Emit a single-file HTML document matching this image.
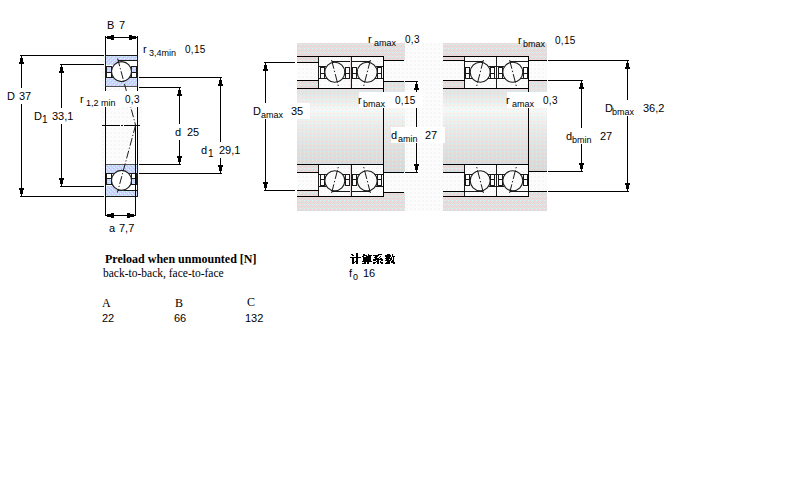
<!DOCTYPE html>
<html><head><meta charset="utf-8"><title>bearing</title>
<style>
html,body{margin:0;padding:0;background:#fff;width:800px;height:500px;overflow:hidden}
svg{position:absolute;left:0;top:0;display:block}
text{fill:#000}
</style></head><body>
<svg width="800" height="500" viewBox="0 0 800 500" shape-rendering="crispEdges">
<defs>
<pattern id="gray" width="4" height="4" patternUnits="userSpaceOnUse">
<rect width="4" height="4" fill="#e1e1e1"/>
<rect x="2" y="1" width="1" height="1" fill="#f6cfcf"/>
<rect x="0" y="3" width="1" height="1" fill="#f6cfcf"/>
<rect x="0" y="0" width="1" height="1" fill="#d0f6f6"/>
<rect x="1" y="2" width="1" height="1" fill="#d5d5d5"/>
<rect x="3" y="2" width="1" height="1" fill="#dadada"/>
</pattern>
<pattern id="blue" width="4" height="4" patternUnits="userSpaceOnUse">
<rect width="4" height="4" fill="#d2d0ff"/>
<rect x="0" y="0" width="1" height="1" fill="#a0d0fa"/>
<rect x="2" y="2" width="1" height="1" fill="#a0d0fa"/>
<rect x="1" y="1" width="1" height="1" fill="#c8fff8"/>
<rect x="3" y="3" width="1" height="1" fill="#c8fff8"/>
<rect x="2" y="0" width="1" height="1" fill="#e0d8e4"/>
<rect x="0" y="2" width="1" height="1" fill="#e0d8e4"/>
</pattern>
<pattern id="hatch" width="4" height="4" patternUnits="userSpaceOnUse">
<rect width="4" height="4" fill="#fcfcfc"/>
<rect x="3" y="0" width="1" height="1" fill="#f1f1f1"/>
<rect x="2" y="1" width="1" height="1" fill="#f1f1f1"/>
</pattern>
<linearGradient id="shaft" x1="0" y1="0" x2="0" y2="1">
<stop offset="0" stop-color="#e0e0e2"/>
<stop offset="0.12" stop-color="#e4e4e7"/>
<stop offset="0.24" stop-color="#eeeff1"/>
<stop offset="0.31" stop-color="#f7f8f9"/>
<stop offset="0.38" stop-color="#f1f2f3"/>
<stop offset="0.52" stop-color="#e9e9eb"/>
<stop offset="0.75" stop-color="#dfdfe1"/>
<stop offset="1" stop-color="#d8d8da"/>
</linearGradient>
<pattern id="dots" width="4" height="4" patternUnits="userSpaceOnUse">
<rect x="2" y="1" width="1" height="1" fill="#ffb8b8" fill-opacity="0.35"/>
<rect x="0" y="3" width="1" height="1" fill="#b8ffff" fill-opacity="0.45"/>
<rect x="0" y="0" width="1" height="1" fill="#ffffb0" fill-opacity="0.3"/>
</pattern>
<g id="brgB"><rect x="1" y="0" width="31" height="33" fill="#fff"/><rect x="1" y="1" width="31" height="4" fill="url(#blue)"/><rect x="1" y="5" width="13" height="5" fill="url(#blue)"/><rect x="1" y="23" width="31" height="8" fill="url(#blue)"/><rect x="13" y="5" width="19" height="1" fill="#1a1a1a"/><rect x="1" y="22" width="31" height="1" fill="#1a1a1a"/><rect x="1" y="11" width="6" height="12" fill="#1a1a1a"/><rect x="2" y="12" width="4" height="5" fill="url(#blue)"/><rect x="2" y="18" width="4" height="4" fill="#fff"/><rect x="26" y="11" width="6" height="12" fill="#1a1a1a"/><rect x="27" y="12" width="4" height="5" fill="url(#blue)"/><rect x="27" y="18" width="4" height="4" fill="#fff"/><circle cx="16.5" cy="16.6" r="10" fill="#fff" stroke="#1a1a1a" stroke-width="1.1" shape-rendering="auto"/><rect x="0" y="0" width="33" height="1" fill="#1a1a1a"/><rect x="0" y="31" width="33" height="1" fill="#555"/></g>
<g id="brgBL"><rect x="1" y="0" width="31" height="33" fill="#fff"/><rect x="1" y="1" width="31" height="5" fill="url(#blue)"/><rect x="1" y="6" width="13" height="5" fill="url(#blue)"/><rect x="1" y="24" width="31" height="8" fill="url(#blue)"/><rect x="13" y="6" width="19" height="1" fill="#1a1a1a"/><rect x="1" y="23" width="31" height="1" fill="#1a1a1a"/><rect x="1" y="12" width="6" height="12" fill="#1a1a1a"/><rect x="2" y="13" width="4" height="5" fill="url(#blue)"/><rect x="2" y="19" width="4" height="4" fill="#fff"/><rect x="26" y="12" width="6" height="12" fill="#1a1a1a"/><rect x="27" y="13" width="4" height="5" fill="url(#blue)"/><rect x="27" y="19" width="4" height="4" fill="#fff"/><circle cx="16.5" cy="16.6" r="10" fill="#fff" stroke="#1a1a1a" stroke-width="1.1" shape-rendering="auto"/><rect x="0" y="0" width="33" height="1" fill="#1a1a1a"/><rect x="0" y="32" width="33" height="1" fill="#555"/></g>
<g id="brgW"><rect x="1" y="0" width="31" height="33" fill="url(#hatch)"/><rect x="14" y="5" width="18" height="1" fill="#1a1a1a"/><rect x="1" y="10" width="7" height="1" fill="#1a1a1a"/><rect x="1" y="22" width="31" height="1" fill="#1a1a1a"/><rect x="2" y="11" width="5" height="12" fill="#1a1a1a"/><rect x="3" y="12" width="3" height="5" fill="#fdfdfd"/><rect x="3" y="18" width="3" height="4" fill="#fdfdfd"/><rect x="27" y="11" width="5" height="12" fill="#1a1a1a"/><rect x="28" y="12" width="3" height="5" fill="#fdfdfd"/><rect x="28" y="18" width="3" height="4" fill="#fdfdfd"/><circle cx="16.8" cy="16.3" r="10" fill="#fbfbfb" stroke="#1a1a1a" stroke-width="1.1" shape-rendering="auto"/><line x1="13.6" y1="4" x2="20.3" y2="30" stroke="#1a1a1a" stroke-width="1" stroke-dasharray="9 2 1.5 2" shape-rendering="auto"/><rect x="0" y="0" width="33" height="1" fill="#1a1a1a"/><rect x="0" y="32" width="33" height="1" fill="#1a1a1a"/></g>
</defs>
<rect x="100" y="55" width="42" height="145" fill="url(#hatch)" />
<rect x="297" y="43" width="250" height="168" fill="url(#hatch)" />
<rect x="297" y="43" width="108" height="168" fill="url(#gray)" />
<rect x="297" y="82" width="108" height="90" fill="url(#shaft)" />
<rect x="297" y="82" width="108" height="90" fill="url(#dots)" />
<rect x="443" y="43" width="104" height="168" fill="url(#gray)" />
<rect x="443" y="82" width="104" height="90" fill="url(#shaft)" />
<rect x="443" y="82" width="104" height="90" fill="url(#dots)" />
<rect x="297" y="63" width="21" height="17" fill="url(#hatch)" />
<rect x="384" y="61" width="21" height="20" fill="url(#hatch)" />
<rect x="297" y="173" width="21" height="17" fill="url(#hatch)" />
<rect x="384" y="173" width="21" height="19" fill="url(#hatch)" />
<rect x="297" y="81" width="21" height="7" fill="url(#gray)" />
<rect x="297" y="165" width="21" height="7" fill="url(#gray)" />
<rect x="443" y="61" width="21" height="19" fill="url(#hatch)" />
<rect x="529" y="61" width="18" height="19" fill="url(#hatch)" />
<rect x="443" y="172" width="21" height="19" fill="url(#hatch)" />
<rect x="529" y="172" width="18" height="19" fill="url(#hatch)" />
<rect x="443" y="81" width="21" height="7" fill="url(#gray)" />
<rect x="443" y="165" width="21" height="6" fill="url(#gray)" />
<use href="#brgB" transform="translate(105,55)"/>
<use href="#brgBL" transform="translate(105,164) translate(0,33) scale(1,-1)"/>
<use href="#brgW" transform="translate(318,56)"/>
<use href="#brgW" transform="translate(351,56) translate(33,0) scale(-1,1)"/>
<use href="#brgW" transform="translate(318,164) translate(0,33) scale(1,-1)"/>
<use href="#brgW" transform="translate(351,164) translate(33,0) scale(-1,1) translate(0,33) scale(1,-1)"/>
<use href="#brgW" transform="translate(464,56) translate(33,0) scale(-1,1)"/>
<use href="#brgW" transform="translate(496,56)"/>
<use href="#brgW" transform="translate(464,164) translate(33,0) scale(-1,1) translate(0,33) scale(1,-1)"/>
<use href="#brgW" transform="translate(496,164) translate(0,33) scale(1,-1)"/>
<rect x="318" y="56" width="1" height="33" fill="#1a1a1a" />
<rect x="318" y="164" width="1" height="33" fill="#1a1a1a" />
<rect x="351" y="56" width="1" height="33" fill="#1a1a1a" />
<rect x="351" y="164" width="1" height="33" fill="#1a1a1a" />
<rect x="383" y="56" width="1" height="33" fill="#1a1a1a" />
<rect x="383" y="164" width="1" height="33" fill="#1a1a1a" />
<rect x="464" y="56" width="1" height="33" fill="#1a1a1a" />
<rect x="464" y="164" width="1" height="33" fill="#1a1a1a" />
<rect x="496" y="56" width="1" height="33" fill="#1a1a1a" />
<rect x="496" y="164" width="1" height="33" fill="#1a1a1a" />
<rect x="528" y="56" width="1" height="33" fill="#1a1a1a" />
<rect x="528" y="164" width="1" height="33" fill="#1a1a1a" />
<rect x="105" y="55" width="1" height="142" fill="#1a1a1a" />
<rect x="137" y="55" width="1" height="142" fill="#1a1a1a" />
<rect x="105" y="36" width="1" height="19" fill="#000" />
<rect x="137" y="36" width="1" height="19" fill="#000" />
<rect x="106" y="37" width="31" height="1" fill="#000" />
<rect x="106" y="37" width="1" height="1" fill="#000" />
<rect x="107" y="36" width="4" height="3" fill="#000" />
<rect x="111" y="35" width="3" height="5" fill="#000" />
<rect x="136" y="37" width="1" height="1" fill="#000" />
<rect x="132" y="36" width="4" height="3" fill="#000" />
<rect x="129" y="35" width="3" height="5" fill="#000" />
<rect x="20" y="55" width="84" height="1" fill="#000" />
<rect x="60" y="64" width="44" height="1" fill="#000" />
<rect x="60" y="186" width="44" height="1" fill="#000" />
<rect x="20" y="196" width="84" height="1" fill="#000" />
<rect x="21" y="56" width="1" height="140" fill="#000" />
<rect x="21" y="56" width="1" height="2" fill="#000" />
<rect x="20" y="58" width="3" height="4" fill="#000" />
<rect x="19" y="62" width="5" height="2" fill="#000" />
<rect x="21" y="194" width="1" height="2" fill="#000" />
<rect x="20" y="190" width="3" height="4" fill="#000" />
<rect x="19" y="188" width="5" height="2" fill="#000" />
<rect x="61" y="65" width="1" height="121" fill="#000" />
<rect x="61" y="65" width="1" height="2" fill="#000" />
<rect x="60" y="67" width="3" height="4" fill="#000" />
<rect x="59" y="71" width="5" height="2" fill="#000" />
<rect x="61" y="184" width="1" height="2" fill="#000" />
<rect x="60" y="180" width="3" height="4" fill="#000" />
<rect x="59" y="178" width="5" height="2" fill="#000" />
<rect x="139" y="77" width="83" height="1" fill="#000" />
<rect x="139" y="87" width="42" height="1" fill="#000" />
<rect x="139" y="164" width="42" height="1" fill="#000" />
<rect x="139" y="173" width="83" height="1" fill="#000" />
<rect x="179" y="88" width="1" height="76" fill="#000" />
<rect x="179" y="88" width="1" height="2" fill="#000" />
<rect x="178" y="90" width="3" height="4" fill="#000" />
<rect x="177" y="94" width="5" height="2" fill="#000" />
<rect x="179" y="162" width="1" height="2" fill="#000" />
<rect x="178" y="158" width="3" height="4" fill="#000" />
<rect x="177" y="156" width="5" height="2" fill="#000" />
<rect x="220" y="78" width="1" height="95" fill="#000" />
<rect x="220" y="78" width="1" height="2" fill="#000" />
<rect x="219" y="80" width="3" height="4" fill="#000" />
<rect x="218" y="84" width="5" height="2" fill="#000" />
<rect x="220" y="171" width="1" height="2" fill="#000" />
<rect x="219" y="167" width="3" height="4" fill="#000" />
<rect x="218" y="165" width="5" height="2" fill="#000" />
<rect x="105" y="87" width="1" height="129" fill="#000" />
<rect x="137" y="87" width="1" height="78" fill="#000" />
<rect x="135" y="125" width="1" height="91" fill="#000" />
<rect x="106" y="215" width="29" height="1" fill="#000" />
<rect x="106" y="215" width="1" height="1" fill="#000" />
<rect x="107" y="214" width="4" height="3" fill="#000" />
<rect x="111" y="213" width="3" height="5" fill="#000" />
<rect x="134" y="215" width="1" height="1" fill="#000" />
<rect x="130" y="214" width="4" height="3" fill="#000" />
<rect x="127" y="213" width="3" height="5" fill="#000" />
<rect x="102" y="125" width="18" height="1" fill="#000" />
<rect x="121" y="125" width="2" height="1" fill="#000" />
<rect x="124" y="125" width="16" height="1" fill="#000" />
<rect x="297" y="56" width="87" height="1" fill="#000" />
<rect x="297" y="88" width="87" height="1" fill="#000" />
<rect x="297" y="164" width="87" height="1" fill="#000" />
<rect x="297" y="196" width="87" height="1" fill="#000" />
<rect x="264" y="62" width="31" height="1" fill="#000" />
<rect x="297" y="62" width="22" height="1" fill="#000" />
<rect x="297" y="80" width="22" height="1" fill="#000" />
<rect x="264" y="190" width="31" height="1" fill="#000" />
<rect x="297" y="190" width="22" height="1" fill="#000" />
<rect x="297" y="172" width="22" height="1" fill="#000" />
<rect x="383" y="60" width="21" height="1" fill="#000" />
<rect x="383" y="81" width="21" height="1" fill="#000" />
<rect x="383" y="172" width="21" height="1" fill="#000" />
<rect x="383" y="192" width="21" height="1" fill="#000" />
<rect x="383" y="56" width="1" height="141" fill="#000" />
<rect x="265" y="63" width="1" height="127" fill="#000" />
<rect x="265" y="63" width="1" height="2" fill="#000" />
<rect x="264" y="65" width="3" height="4" fill="#000" />
<rect x="263" y="69" width="5" height="2" fill="#000" />
<rect x="265" y="188" width="1" height="2" fill="#000" />
<rect x="264" y="184" width="3" height="4" fill="#000" />
<rect x="263" y="182" width="5" height="2" fill="#000" />
<rect x="405" y="80" width="14" height="3" fill="#fff" />
<rect x="405" y="171" width="14" height="3" fill="#fff" />
<rect x="415" y="82" width="3" height="90" fill="#fff" />
<rect x="413" y="83" width="7" height="7" fill="#fff" />
<rect x="413" y="164" width="7" height="7" fill="#fff" />
<rect x="405" y="81" width="13" height="1" fill="#000" />
<rect x="405" y="172" width="13" height="1" fill="#000" />
<rect x="416" y="82" width="1" height="90" fill="#000" />
<rect x="416" y="82" width="1" height="2" fill="#000" />
<rect x="415" y="84" width="3" height="4" fill="#000" />
<rect x="414" y="88" width="5" height="2" fill="#000" />
<rect x="416" y="170" width="1" height="2" fill="#000" />
<rect x="415" y="166" width="3" height="4" fill="#000" />
<rect x="414" y="164" width="5" height="2" fill="#000" />
<rect x="443" y="56" width="86" height="1" fill="#000" />
<rect x="443" y="88" width="86" height="1" fill="#000" />
<rect x="443" y="164" width="86" height="1" fill="#000" />
<rect x="443" y="196" width="86" height="1" fill="#000" />
<rect x="443" y="60" width="22" height="1" fill="#000" />
<rect x="443" y="80" width="22" height="1" fill="#000" />
<rect x="443" y="172" width="22" height="1" fill="#000" />
<rect x="443" y="191" width="22" height="1" fill="#000" />
<rect x="528" y="60" width="19" height="1" fill="#000" />
<rect x="528" y="80" width="19" height="1" fill="#000" />
<rect x="528" y="171" width="19" height="1" fill="#000" />
<rect x="528" y="191" width="19" height="1" fill="#000" />
<rect x="528" y="56" width="1" height="141" fill="#000" />
<rect x="548" y="60" width="81" height="1" fill="#000" />
<rect x="548" y="191" width="81" height="1" fill="#000" />
<rect x="627" y="61" width="1" height="130" fill="#000" />
<rect x="627" y="61" width="1" height="2" fill="#000" />
<rect x="626" y="63" width="3" height="4" fill="#000" />
<rect x="625" y="67" width="5" height="2" fill="#000" />
<rect x="627" y="189" width="1" height="2" fill="#000" />
<rect x="626" y="185" width="3" height="4" fill="#000" />
<rect x="625" y="183" width="5" height="2" fill="#000" />
<rect x="548" y="80" width="35" height="1" fill="#000" />
<rect x="548" y="171" width="35" height="1" fill="#000" />
<rect x="581" y="81" width="1" height="90" fill="#000" />
<rect x="581" y="81" width="1" height="2" fill="#000" />
<rect x="580" y="83" width="3" height="4" fill="#000" />
<rect x="579" y="87" width="5" height="2" fill="#000" />
<rect x="581" y="169" width="1" height="2" fill="#000" />
<rect x="580" y="165" width="3" height="4" fill="#000" />
<rect x="579" y="163" width="5" height="2" fill="#000" />
<line x1="117.6" y1="58.5" x2="135.6" y2="125.2" stroke="#1a1a1a" stroke-width="1" stroke-dasharray="8 2 1.2 2" shape-rendering="auto"/>
<line x1="135.6" y1="125.2" x2="117.4" y2="192.5" stroke="#1a1a1a" stroke-width="1" stroke-dasharray="8 2 1.2 2" shape-rendering="auto"/>
<rect x="0" y="88" width="36" height="16" fill="#fff" />
<rect x="30" y="108" width="45" height="16" fill="#fff" />
<rect x="80" y="91" width="60" height="16" fill="#fff" />
<rect x="170" y="124" width="32" height="16" fill="#fff" />
<rect x="197" y="142" width="44" height="16" fill="#fff" />
<rect x="253" y="103" width="57" height="16" fill="#fff" />
<rect x="359" y="92" width="64" height="16" fill="#fff" />
<rect x="507" y="92" width="60" height="16" fill="#fff" />
<rect x="391" y="127" width="54" height="16" fill="#fff" />
<rect x="600" y="100" width="70" height="16" fill="#fff" />
<rect x="562" y="128" width="52" height="16" fill="#fff" />
<rect x="351" y="254" width="2" height="1" fill="#000" />
<rect x="352" y="255" width="2" height="1" fill="#000" />
<rect x="350" y="257" width="11" height="1" fill="#000" />
<rect x="352" y="258" width="2" height="6" fill="#000" />
<rect x="354" y="262" width="1" height="1" fill="#000" />
<rect x="355" y="261" width="1" height="1" fill="#000" />
<rect x="356" y="253" width="2" height="11" fill="#000" />
<rect x="363" y="254" width="2" height="1" fill="#000" />
<rect x="368" y="254" width="1" height="1" fill="#000" />
<rect x="363" y="255" width="4" height="1" fill="#000" />
<rect x="368" y="255" width="4" height="1" fill="#000" />
<rect x="362" y="256" width="2" height="1" fill="#000" />
<rect x="366" y="256" width="5" height="1" fill="#000" />
<rect x="363" y="257" width="8" height="4" fill="#000" />
<rect x="362" y="261" width="10" height="1" fill="#000" />
<rect x="364" y="262" width="2" height="1" fill="#000" />
<rect x="367" y="262" width="2" height="2" fill="#000" />
<rect x="362" y="263" width="4" height="1" fill="#000" />
<rect x="378" y="254" width="4" height="1" fill="#000" />
<rect x="373" y="255" width="6" height="1" fill="#000" />
<rect x="375" y="256" width="3" height="1" fill="#000" />
<rect x="380" y="256" width="1" height="1" fill="#000" />
<rect x="374" y="257" width="3" height="1" fill="#000" />
<rect x="379" y="257" width="1" height="1" fill="#000" />
<rect x="375" y="258" width="4" height="1" fill="#000" />
<rect x="380" y="258" width="2" height="1" fill="#000" />
<rect x="373" y="259" width="10" height="1" fill="#000" />
<rect x="373" y="260" width="3" height="1" fill="#000" />
<rect x="377" y="260" width="2" height="1" fill="#000" />
<rect x="381" y="260" width="2" height="1" fill="#000" />
<rect x="376" y="261" width="1" height="1" fill="#000" />
<rect x="377" y="261" width="2" height="1" fill="#000" />
<rect x="380" y="261" width="1" height="1" fill="#000" />
<rect x="373" y="262" width="3" height="1" fill="#000" />
<rect x="377" y="262" width="2" height="1" fill="#000" />
<rect x="380" y="262" width="3" height="1" fill="#000" />
<rect x="373" y="263" width="2" height="1" fill="#000" />
<rect x="377" y="263" width="2" height="1" fill="#000" />
<rect x="381" y="263" width="2" height="1" fill="#000" />
<rect x="387" y="254" width="3" height="1" fill="#000" />
<rect x="392" y="254" width="1" height="1" fill="#000" />
<rect x="385" y="255" width="6" height="1" fill="#000" />
<rect x="392" y="255" width="1" height="1" fill="#000" />
<rect x="385" y="256" width="6" height="1" fill="#000" />
<rect x="392" y="256" width="3" height="1" fill="#000" />
<rect x="386" y="257" width="4" height="1" fill="#000" />
<rect x="391" y="257" width="1" height="1" fill="#000" />
<rect x="393" y="257" width="1" height="1" fill="#000" />
<rect x="385" y="258" width="7" height="1" fill="#000" />
<rect x="393" y="258" width="1" height="1" fill="#000" />
<rect x="386" y="259" width="3" height="1" fill="#000" />
<rect x="390" y="259" width="2" height="1" fill="#000" />
<rect x="393" y="259" width="1" height="1" fill="#000" />
<rect x="385" y="260" width="6" height="1" fill="#000" />
<rect x="392" y="260" width="2" height="1" fill="#000" />
<rect x="387" y="261" width="3" height="1" fill="#000" />
<rect x="391" y="261" width="3" height="1" fill="#000" />
<rect x="386" y="262" width="4" height="1" fill="#000" />
<rect x="391" y="262" width="4" height="1" fill="#000" />
<rect x="385" y="263" width="5" height="1" fill="#000" />
<rect x="393" y="263" width="2" height="1" fill="#000" />
<g>
<text x="107" y="29" font-size="11" font-family="&quot;Liberation Sans&quot;, sans-serif" font-weight="normal">B</text>
<text x="119" y="29" font-size="11" font-family="&quot;Liberation Sans&quot;, sans-serif" font-weight="normal">7</text>
<text x="143" y="53" font-size="11" font-family="&quot;Liberation Sans&quot;, sans-serif" font-weight="normal">r</text>
<text x="149" y="56" font-size="9" font-family="&quot;Liberation Sans&quot;, sans-serif" font-weight="normal">3,4min</text>
<text x="185" y="53" font-size="10" font-family="&quot;Liberation Sans&quot;, sans-serif" font-weight="normal" letter-spacing="0.3">0,15</text>
<text x="7" y="100" font-size="11" font-family="&quot;Liberation Sans&quot;, sans-serif" font-weight="normal">D</text>
<text x="19" y="100" font-size="11" font-family="&quot;Liberation Sans&quot;, sans-serif" font-weight="normal">37</text>
<text x="34" y="120" font-size="11" font-family="&quot;Liberation Sans&quot;, sans-serif" font-weight="normal">D</text>
<text x="42" y="123" font-size="10" font-family="&quot;Liberation Sans&quot;, sans-serif" font-weight="normal">1</text>
<text x="52" y="120" font-size="11" font-family="&quot;Liberation Sans&quot;, sans-serif" font-weight="normal">33,1</text>
<text x="80" y="103" font-size="11" font-family="&quot;Liberation Sans&quot;, sans-serif" font-weight="normal">r</text>
<text x="86" y="106" font-size="9" font-family="&quot;Liberation Sans&quot;, sans-serif" font-weight="normal">1,2 min</text>
<text x="125" y="103" font-size="10" font-family="&quot;Liberation Sans&quot;, sans-serif" font-weight="normal" letter-spacing="0.3">0,3</text>
<text x="175" y="136" font-size="11" font-family="&quot;Liberation Sans&quot;, sans-serif" font-weight="normal">d</text>
<text x="187" y="136" font-size="11" font-family="&quot;Liberation Sans&quot;, sans-serif" font-weight="normal">25</text>
<text x="201" y="154" font-size="11" font-family="&quot;Liberation Sans&quot;, sans-serif" font-weight="normal">d</text>
<text x="208" y="157" font-size="10" font-family="&quot;Liberation Sans&quot;, sans-serif" font-weight="normal">1</text>
<text x="219" y="154" font-size="11" font-family="&quot;Liberation Sans&quot;, sans-serif" font-weight="normal">29,1</text>
<text x="109" y="232" font-size="11" font-family="&quot;Liberation Sans&quot;, sans-serif" font-weight="normal">a</text>
<text x="119" y="232" font-size="11" font-family="&quot;Liberation Sans&quot;, sans-serif" font-weight="normal">7,7</text>
<text x="368" y="43" font-size="11" font-family="&quot;Liberation Sans&quot;, sans-serif" font-weight="normal">r</text>
<text x="374" y="46" font-size="9" font-family="&quot;Liberation Sans&quot;, sans-serif" font-weight="normal">amax</text>
<text x="405" y="43" font-size="10" font-family="&quot;Liberation Sans&quot;, sans-serif" font-weight="normal" letter-spacing="0.3">0,3</text>
<text x="518" y="44" font-size="11" font-family="&quot;Liberation Sans&quot;, sans-serif" font-weight="normal">r</text>
<text x="523" y="47" font-size="9" font-family="&quot;Liberation Sans&quot;, sans-serif" font-weight="normal">bmax</text>
<text x="555" y="44" font-size="10" font-family="&quot;Liberation Sans&quot;, sans-serif" font-weight="normal" letter-spacing="0.3">0,15</text>
<text x="358" y="104" font-size="11" font-family="&quot;Liberation Sans&quot;, sans-serif" font-weight="normal">r</text>
<text x="363" y="107" font-size="9" font-family="&quot;Liberation Sans&quot;, sans-serif" font-weight="normal">bmax</text>
<text x="395" y="104" font-size="10" font-family="&quot;Liberation Sans&quot;, sans-serif" font-weight="normal" letter-spacing="0.3">0,15</text>
<text x="506" y="104" font-size="11" font-family="&quot;Liberation Sans&quot;, sans-serif" font-weight="normal">r</text>
<text x="512" y="107" font-size="9" font-family="&quot;Liberation Sans&quot;, sans-serif" font-weight="normal">amax</text>
<text x="543" y="104" font-size="10" font-family="&quot;Liberation Sans&quot;, sans-serif" font-weight="normal" letter-spacing="0.3">0,3</text>
<text x="253" y="115" font-size="11" font-family="&quot;Liberation Sans&quot;, sans-serif" font-weight="normal">D</text>
<text x="261" y="118" font-size="9" font-family="&quot;Liberation Sans&quot;, sans-serif" font-weight="normal">amax</text>
<text x="291" y="115" font-size="11" font-family="&quot;Liberation Sans&quot;, sans-serif" font-weight="normal">35</text>
<text x="391" y="139" font-size="11" font-family="&quot;Liberation Sans&quot;, sans-serif" font-weight="normal">d</text>
<text x="398" y="142" font-size="9" font-family="&quot;Liberation Sans&quot;, sans-serif" font-weight="normal">amin</text>
<text x="425" y="139" font-size="11" font-family="&quot;Liberation Sans&quot;, sans-serif" font-weight="normal">27</text>
<text x="605" y="112" font-size="11" font-family="&quot;Liberation Sans&quot;, sans-serif" font-weight="normal">D</text>
<text x="612" y="115" font-size="9" font-family="&quot;Liberation Sans&quot;, sans-serif" font-weight="normal">bmax</text>
<text x="643" y="112" font-size="11" font-family="&quot;Liberation Sans&quot;, sans-serif" font-weight="normal">36,2</text>
<text x="566" y="140" font-size="11" font-family="&quot;Liberation Sans&quot;, sans-serif" font-weight="normal">d</text>
<text x="572" y="143" font-size="9" font-family="&quot;Liberation Sans&quot;, sans-serif" font-weight="normal">bmin</text>
<text x="600" y="140" font-size="11" font-family="&quot;Liberation Sans&quot;, sans-serif" font-weight="normal">27</text>
<text x="105" y="263" font-size="12" font-family="&quot;Liberation Serif&quot;, serif" font-weight="bold">Preload when unmounted [N]</text>
<text x="103" y="277" font-size="11.5" font-family="&quot;Liberation Serif&quot;, serif" font-weight="normal">back-to-back, face-to-face</text>
<text x="349" y="277" font-size="11" font-family="&quot;Liberation Sans&quot;, sans-serif" font-weight="normal">f</text>
<text x="353" y="280" font-size="9" font-family="&quot;Liberation Sans&quot;, sans-serif" font-weight="normal">0</text>
<text x="363" y="277" font-size="11" font-family="&quot;Liberation Sans&quot;, sans-serif" font-weight="normal">16</text>
<text x="102" y="307" font-size="12" font-family="&quot;Liberation Serif&quot;, serif" font-weight="normal">A</text>
<text x="175" y="307" font-size="12" font-family="&quot;Liberation Serif&quot;, serif" font-weight="normal">B</text>
<text x="247" y="306" font-size="12" font-family="&quot;Liberation Serif&quot;, serif" font-weight="normal">C</text>
<text x="102" y="322" font-size="11" font-family="&quot;Liberation Sans&quot;, sans-serif" font-weight="normal">22</text>
<text x="174" y="322" font-size="11" font-family="&quot;Liberation Sans&quot;, sans-serif" font-weight="normal">66</text>
<text x="245" y="322" font-size="11" font-family="&quot;Liberation Sans&quot;, sans-serif" font-weight="normal">132</text>
</g>
</svg>
</body></html>
